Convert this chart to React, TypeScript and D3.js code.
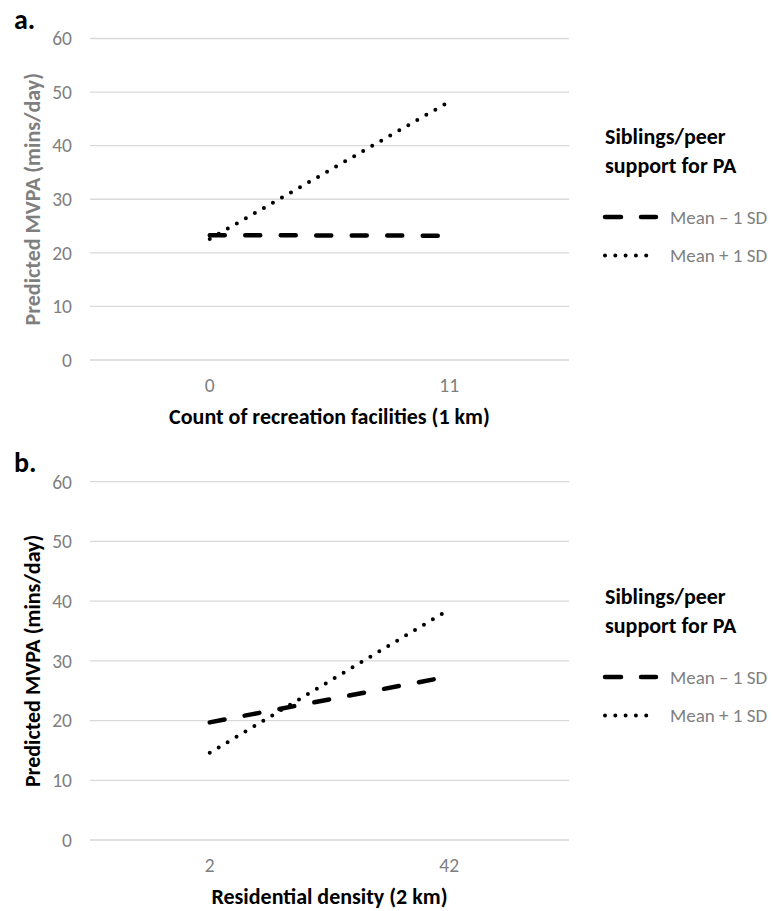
import React from 'react';
import * as d3 from 'd3';

const yTicks = [0, 10, 20, 30, 40, 50, 60];
const seriesNames = ['Mean \u2013 1 SD', 'Mean + 1 SD'];
const legendTitle = ['Siblings/peer', 'support for PA'];

const aCategories = ['0', '11'];
const aMinus = [23.3, 23.2];
const aPlus = [22.6, 48.2];

const bCategories = ['2', '42'];
const bMinus = [19.7, 27.4];
const bPlus = [14.6, 38.6];

const FONT = 'Carlito, Lato, "Open Sans", sans-serif';
const GREY = '#7f7f7f';

const DASH = { dash: '15,20.5', width: 4.5 };
const DOT = { dash: '0,10.4', width: 4 };

interface PanelProps {
  tag: string;
  top: number;
  bottom: number;
  categories: string[];
  minus: number[];
  plus: number[];
  xTitle: string;
  yTitleColor: string;
  legendY: number;
}

const Panel: React.FC<PanelProps> = ({ tag, top, bottom, categories, minus, plus, xTitle, yTitleColor, legendY }) => {
  const left = 90;
  const right = 569;

  const x = d3.scalePoint<string>().domain(categories).range([left, right]).padding(0.5);
  const y = d3.scaleLinear().domain([0, 60]).range([bottom, top]);

  const line = d3.line<number>()
    .x((_, i) => x(categories[i]) as number)
    .y((d) => y(d));

  const styles = [DASH, DOT];
  const series = [minus, plus];

  return (
    <g>
      <text x={14} y={top - 10} fontFamily={FONT} fontWeight="bold" fontSize={28} fill="#000">{tag}</text>

      {/* grid + tick labels */}
      {yTicks.map((t) => (
        <g key={t}>
          <line x1={left} x2={right} y1={y(t)} y2={y(t)} stroke="#d9d9d9" strokeWidth={1.3} />
          <text x={72} y={y(t)} dy="0.35em" textAnchor="end" fontFamily={FONT} fontSize={19.5} fill={GREY}>{t}</text>
        </g>
      ))}

      {categories.map((c) => (
        <text key={c} x={x(c)} y={bottom + 32} textAnchor="middle" fontFamily={FONT} fontSize={19.5} fill={GREY}>{c}</text>
      ))}

      <text x={(left + right) / 2} y={bottom + 64} textAnchor="middle" fontFamily={FONT} fontWeight="bold" fontSize={22} fill="#000">{xTitle}</text>

      <text
        transform={`translate(40,${(top + bottom) / 2}) rotate(-90)`}
        textAnchor="middle"
        fontFamily={FONT}
        fontWeight="bold"
        fontSize={22}
        fill={yTitleColor}
      >Predicted MVPA (mins/day)</text>

      {series.map((s, i) => (
        <path
          key={i}
          d={line(s) ?? ''}
          fill="none"
          stroke="#000"
          strokeWidth={styles[i].width}
          strokeDasharray={styles[i].dash}
          strokeLinecap="round"
        />
      ))}

      {/* legend */}
      {legendTitle.map((t, i) => (
        <text key={t} x={605} y={legendY + i * 29} fontFamily={FONT} fontWeight="bold" fontSize={22} fill="#000">{t}</text>
      ))}
      {seriesNames.map((n, i) => {
        const ly = legendY + 73 + i * 38.5;
        return (
          <g key={n}>
            <line x1={605} x2={656} y1={ly} y2={ly} stroke="#000" strokeWidth={styles[i].width}
              strokeDasharray={i === 0 ? '16,20' : '0,10.3'} strokeLinecap="round" />
            <text x={670} y={ly} dy="0.35em" fontFamily={FONT} fontSize={19} fill={GREY}>{n}</text>
          </g>
        );
      })}
    </g>
  );
};

const App: React.FC = () => (
  <svg width={772} height={911} style={{ position: 'absolute', left: 0, top: 0, background: '#fff' }}>
    <rect width={772} height={911} fill="#fff" />
    <Panel tag="a." top={38.5} bottom={360} categories={aCategories} minus={aMinus} plus={aPlus}
      xTitle="Count of recreation facilities (1 km)" yTitleColor={GREY} legendY={144} />
    <Panel tag="b." top={481.7} bottom={840} categories={bCategories} minus={bMinus} plus={bPlus}
      xTitle="Residential density (2 km)" yTitleColor="#000" legendY={604} />
  </svg>
);

export default App;
